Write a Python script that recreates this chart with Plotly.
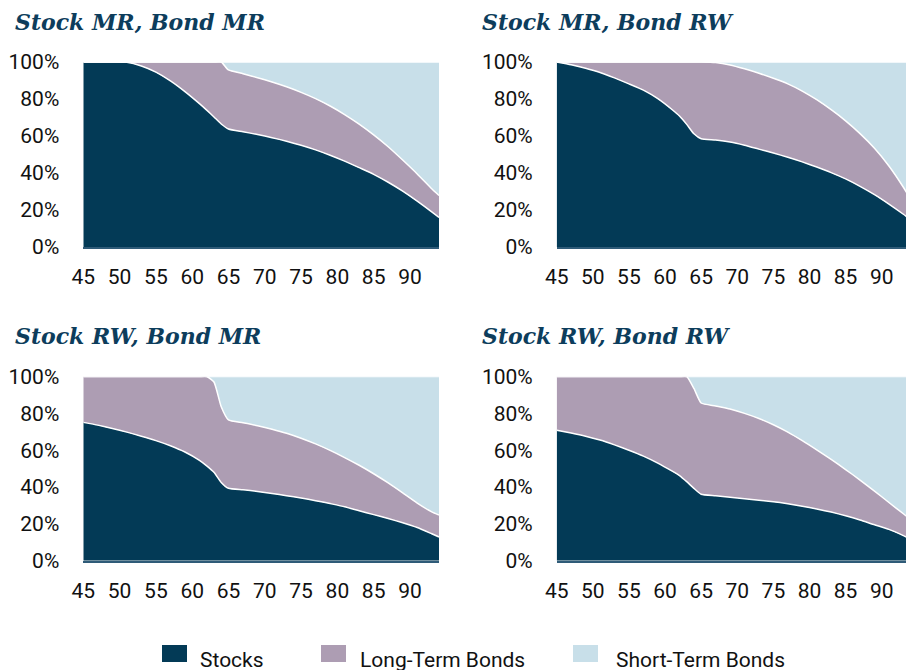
import plotly.graph_objects as go

ages = [45, 47, 49, 51, 53, 55, 57, 59, 61, 62, 63, 64, 65, 67, 69, 71, 73, 75,
        77, 79, 81, 83, 85, 87, 89, 91, 93, 94]

titles = ["Stock MR, Bond MR", "Stock MR, Bond RW", "Stock RW, Bond MR", "Stock RW, Bond RW"]
series_names = ["Stocks", "Long-Term Bonds", "Short-Term Bonds"]
x_ticks = [45, 50, 55, 60, 65, 70, 75, 80, 85, 90]
y_ticks = [0, 20, 40, 60, 80, 100]
y_tick_labels = ["0%", "20%", "40%", "60%", "80%", "100%"]

# Panel 1: Stock MR, Bond MR
stocks_1 = [100, 100, 100, 99.8, 97.8, 94.5, 89.8, 84, 77.5, 74, 70.3, 66.5, 63.8, 62.3,
            60.8, 59.1, 57.2, 55.0, 52.5, 49.6, 46.4, 42.9, 39.3, 35.0, 30.2, 24.8, 19, 16]
long_1 = [0, 0, 0, 0.2, 2.2, 5.5, 10.2, 16, 22.5, 26, 29.7, 33.5, 31.9, 31.4,
          30.7, 30.1, 29.4, 28.6, 27.7, 26.6, 25.2, 23.5, 21.3, 19.2, 16.8, 14.7, 12.5, 11.8]
short_1 = [0, 0, 0, 0, 0, 0, 0, 0, 0, 0, 0, 0, 4.3, 6.3,
           8.5, 10.8, 13.4, 16.4, 19.8, 23.8, 28.4, 33.6, 39.4, 45.8, 53, 60.5, 68.5, 72.2]

# Panel 2: Stock MR, Bond RW
stocks_2 = [100, 98.5, 96.6, 94.3, 91.4, 88.2, 84.8, 80.2, 74.2, 70.8, 66.3, 61.2, 58.5, 57.8,
            56.7, 55.0, 52.9, 50.8, 48.5, 46.0, 43.2, 40.2, 36.8, 32.8, 28.3, 23.2, 17.7, 14.8]
long_2 = [0, 1.5, 3.4, 5.7, 8.6, 11.8, 15.2, 19.8, 25.8, 29.2, 33.7, 38.8, 41.5, 41.9,
          41.7, 41.3, 41.0, 40.4, 39.7, 38.3, 36.4, 34.0, 31.4, 28.5, 25.1, 20.6, 14.6, 11.0]
short_2 = [0, 0, 0, 0, 0, 0, 0, 0, 0, 0, 0, 0, 0, 0.3,
           1.6, 3.7, 6.1, 8.8, 11.8, 15.7, 20.4, 25.8, 31.8, 38.7, 46.6, 56.2, 67.7, 74.2]

# Panel 3: Stock RW, Bond MR
stocks_3 = [75.1, 73.6, 71.8, 69.8, 67.6, 65.2, 62.4, 59, 54.5, 51.5, 48, 42.5, 39.3, 38.5,
            37.6, 36.5, 35.3, 34, 32.6, 31, 29.3, 27.1, 25, 22.9, 20.6, 18, 14.6, 12.9]
long_3 = [24.9, 26.4, 28.2, 30.2, 32.4, 34.8, 37.6, 41, 45.5, 48.5, 49, 41.1, 37.1, 36.4,
          35.7, 34.9, 33.9, 32.5, 30.8, 28.9, 26.7, 24.7, 22.2, 19.3, 16.2, 13.3, 11.9, 11.9]
short_3 = [0, 0, 0, 0, 0, 0, 0, 0, 0, 0, 3, 16.4, 23.6, 25.1,
           26.7, 28.6, 30.8, 33.5, 36.6, 40.1, 44, 48.2, 52.8, 57.8, 63.2, 68.7, 73.5, 75.2]

# Panel 4: Stock RW, Bond RW
stocks_4 = [70.8, 69.3, 67.6, 65.5, 62.9, 60, 56.8, 53, 48.6, 46.2, 42.9, 39.3, 36.1, 35.3,
            34.5, 33.6, 32.8, 32.0, 30.9, 29.6, 28.1, 26.4, 24.4, 22.1, 19.5, 17, 13.6, 11.7]
long_4 = [29.2, 30.7, 32.4, 34.5, 37.1, 40, 43.2, 47, 51.4, 53.8, 57.1, 54.2, 49.5, 48.7,
          47.8, 46.4, 44.4, 41.8, 38.9, 35.6, 32.1, 28.6, 25.1, 21.7, 18.3, 14.6, 11.9, 10.6]
short_4 = [0, 0, 0, 0, 0, 0, 0, 0, 0, 0, 0, 6.5, 14.4, 16,
           17.7, 20, 22.8, 26.2, 30.2, 34.8, 39.8, 45, 50.5, 56.2, 62.2, 68.4, 74.5, 77.7]

panels = [
    (stocks_1, long_1, short_1),
    (stocks_2, long_2, short_2),
    (stocks_3, long_3, short_3),
    (stocks_4, long_4, short_4),
]

colors = ["#033a56", "#ad9db3", "#c8dfe9"]
title_color = "#0d3d5c"

W, H = 914, 670
OFF = 8  # page body margin

def px_x(v):
    return (v - OFF) / W

def px_y(v):
    return 1 - (v - OFF) / H

# plot areas in screen pixel coordinates (left, right, top, bottom)
areas = [
    (83.3, 439.0, 62.0, 247.0),
    (556.7, 910.6, 62.0, 247.0),
    (83.3, 439.0, 376.5, 560.7),
    (556.7, 910.6, 376.5, 560.7),
]
title_pos = [(13, 22), (480, 22), (13, 336), (480, 336)]

fig = go.Figure()
layout = {}
annotations = []
shapes = []

for i, (vals, area) in enumerate(zip(panels, areas)):
    n = i + 1
    xa = "x" if n == 1 else f"x{n}"
    ya = "y" if n == 1 else f"y{n}"
    for name, v, c in zip(series_names, vals, colors):
        fig.add_trace(go.Scatter(
            x=ages, y=v, name=name, mode="lines",
            stackgroup=f"g{n}", fillcolor=c,
            line=dict(color="white", width=1.5, shape="spline", smoothing=0.5),
            xaxis=xa, yaxis=ya, showlegend=False,
            hovertemplate="%{x}: %{y:.1f}%<extra>" + name + "</extra>",
        ))
    l, r, t, b = area
    layout[f"xaxis{'' if n == 1 else n}"] = dict(
        domain=[px_x(l), px_x(r)], range=[45, 94], anchor=ya,
        tickvals=x_ticks, showgrid=False, zeroline=False,
        showline=True, linecolor="#2f5b78", linewidth=2,
        ticks="", ticklabelstandoff=10, automargin=False,
        tickfont=dict(family="Roboto", size=21, color="#111111"),
    )
    layout[f"yaxis{'' if n == 1 else n}"] = dict(
        domain=[px_y(b), px_y(t)], range=[0, 100], anchor=xa,
        tickvals=y_ticks, ticktext=y_tick_labels, showgrid=False, zeroline=False,
        showline=False, ticks="", ticklabelstandoff=23, automargin=False,
        tickfont=dict(family="Roboto", size=21, color="#111111"),
    )
    tx, ty = title_pos[i]
    annotations.append(dict(
        text=f"<b><i>{titles[i]}</i></b>", xref="paper", yref="paper",
        x=px_x(tx), y=px_y(ty), xanchor="left", yanchor="middle", showarrow=False,
        font=dict(family="DejaVu Serif", size=22, color=title_color),
    ))

# legend drawn manually
legend_items = [(162, 198), (321, 358), (573, 614)]
for (sx, tx), name, c in zip(legend_items, series_names, colors):
    shapes.append(dict(type="rect", xref="paper", yref="paper",
                       x0=px_x(sx), x1=px_x(sx + 25), y0=px_y(662), y1=px_y(645),
                       fillcolor=c, line=dict(width=0)))
    annotations.append(dict(
        text=name, xref="paper", yref="paper", x=px_x(tx), y=px_y(660),
        xanchor="left", yanchor="middle", showarrow=False,
        font=dict(family="Roboto", size=21, color="#111111"),
    ))

fig.update_layout(
    width=W, height=H, margin=dict(l=0, r=0, t=0, b=0),
    paper_bgcolor="white", plot_bgcolor="white",
    annotations=annotations, shapes=shapes, showlegend=False,
    **layout,
)

fig.write_html("out.html")
